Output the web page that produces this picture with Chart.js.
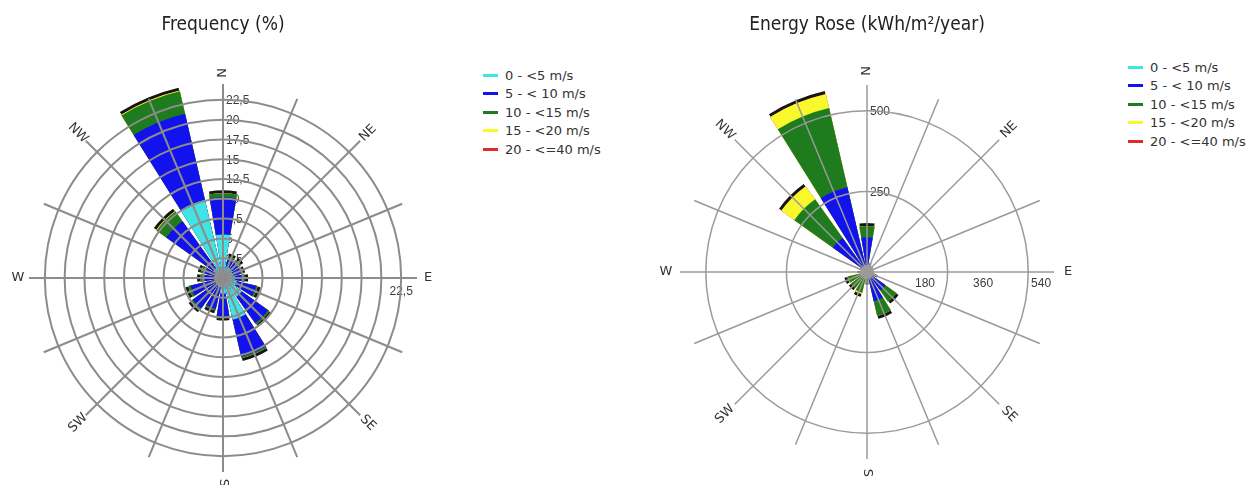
<!DOCTYPE html>
<html>
<head>
<meta charset="utf-8">
<title>Wind roses</title>
<script src="https://cdn.jsdelivr.net/npm/chart.js@4.4.1/dist/chart.umd.min.js"></script>
<style>
body { margin: 0; background: #fff; width: 1257px; height: 485px; position: relative; overflow: hidden; font-family: "DejaVu Sans", sans-serif; }
canvas { position: absolute; top: 0; }
#freq-canvas { left: 0; }
#energy-canvas { left: 644px; }
.legend { position: absolute; margin: 0; padding: 0; list-style: none; font-size: 13px; color: #333; }
.legend li { height: 18.5px; display: flex; align-items: center; white-space: pre; }
.legend .mark { display: inline-block; width: 15px; height: 3px; margin-right: 7px; }
#freq-legend { left: 483px; top: 66px; }
#energy-legend { left: 1128px; top: 58px; }
</style>
</head>
<body>
<canvas id="freq-canvas" width="446" height="485"></canvas>
<canvas id="energy-canvas" width="446" height="485"></canvas>
<ul class="legend" id="freq-legend"></ul>
<ul class="legend" id="energy-legend"></ul>
<script>
// 16 sectors, clockwise from north
var directions = ["N", "NNE", "NE", "ENE", "E", "ESE", "SE", "SSE", "S", "SSW", "SW", "WSW", "W", "WNW", "NW", "NNW"];
var compassLabels = ["N", "NE", "E", "SE", "S", "SW", "W", "NW"];   // written on every 2nd spoke

var binLabels = ["0 - <5 m/s", "5 - < 10 m/s", "10 - <15 m/s", "15 - <20 m/s", "20 - <=40 m/s"];
var binColors = ["#40e4e4", "#1212ee", "#1e7b1e", "#f8f82c", "#e02c2c"];

// Frequency (%) per direction, one array per speed bin
var freq0to5   = [5.5, 1.5, 1.4, 1.3, 1.5, 1.8, 2.9, 5.4, 2.0, 1.2, 1.0, 0.9, 0.8, 0.8, 1.5, 10.1];
var freq5to10  = [4.7, 1.1, 1.2, 1.0, 1.1, 2.5, 4.1, 4.8, 2.8, 2.8, 3.7, 3.3, 1.8, 1.6, 7.3, 11.2];
var freq10to15 = [0.5, 0.2, 0.2, 0.2, 0.2, 0.2, 0.2, 0.2, 0.2, 0.2, 0.3, 0.3, 0.3, 0.5, 1.5, 2.9];
var freq15to20 = [0, 0, 0, 0, 0, 0, 0, 0, 0, 0, 0, 0, 0, 0, 0.1, 0.1];
var freq20to40 = [0, 0, 0, 0, 0, 0, 0, 0, 0, 0, 0, 0, 0, 0, 0, 0];
var freqRings = [2.5, 5, 7.5, 10, 12.5, 15, 17.5, 20, 22.5];
var freqEastTicks = [22.5];
var freqMax = 24.5;

// Energy (kWh/m2/year) per direction, one array per speed bin
var energy0to5   = [3, 1, 1, 1, 1, 1, 2, 3, 1, 1, 1, 1, 1, 1, 3, 5];
var energy5to10  = [105, 8, 6, 5, 5, 10, 68, 90, 15, 20, 20, 20, 8, 6, 127, 265];
var energy10to15 = [35, 11, 8, 6, 6, 14, 42, 47, 14, 45, 40, 40, 11, 8, 147, 252];
var energy15to20 = [0, 0, 0, 0, 0, 0, 0, 0, 0, 4, 0, 2, 0, 0, 50, 45];
var energy20to40 = [0, 0, 0, 0, 0, 0, 0, 0, 0, 0, 0, 0, 0, 0, 0, 0];
var energyRings = [250, 500];
var energyEastTicks = [180, 360, 540];
var energyMax = 580;

var TITLE_FONT = "'DejaVu Sans Condensed', 'DejaVu Sans', sans-serif";
var BAR_DEG = 19;
var GAP_DEG = 22.5 - BAR_DEG;

function cumulate(bins)
{
    // running totals, so each bin is drawn as a ring over the ones outside it
    var out = [];
    var run = directions.map(function(){ return 0; });
    bins.forEach(function(b){
        run = run.map(function(v, i){ return v + b[i]; });
        out.push(run.slice());
    });
    return out;
}

function spread(values)
{
    // one lead slot, then bar / gap pairs so bars sit centred on their spoke
    var d = [0];
    values.forEach(function(v){ d.push(v, 0); });
    return d;
}

function sliceAngle(ctx)
{
    if (ctx.dataIndex === 0) return 360 - BAR_DEG / 2;
    return ctx.dataIndex % 2 ? BAR_DEG : GAP_DEG;
}

function commaFormat(v)
{
    return String(v).replace(".", ",");
}

var roseDecor = {
    id: "roseDecor",
    beforeDatasetsDraw: function(chart, args, opts) {
        var r = chart.scales.r, ctx = chart.ctx;
        ctx.save();
        ctx.font = "12px 'Liberation Sans', Arial, sans-serif";
        ctx.fillStyle = "#3c3c3c";
        ctx.textBaseline = "middle";
        ctx.textAlign = "left";
        opts.rings.forEach(function(v){
            ctx.fillText(commaFormat(v), r.xCenter + 3, r.yCenter - r.getDistanceFromCenterForValue(v) + 1);
        });
        ctx.textAlign = "center";
        opts.eastTicks.forEach(function(v){
            ctx.fillText(commaFormat(v), r.xCenter + r.getDistanceFromCenterForValue(v), r.yCenter + opts.eastDrop);
        });
        ctx.restore();
    },
    afterDatasetsDraw: function(chart, args, opts) {
        var r = chart.scales.r, ctx = chart.ctx;
        ctx.save();
        ctx.fillStyle = "#9b9b9b";
        ctx.beginPath();
        ctx.arc(r.xCenter, r.yCenter, opts.hub, 0, Math.PI * 2);
        ctx.fill();
        ctx.restore();
    },
    afterDraw: function(chart, args, opts) {
        var r = chart.scales.r, ctx = chart.ctx;
        ctx.save();
        ctx.font = "13px 'DejaVu Sans', sans-serif";
        ctx.fillStyle = "#333";
        ctx.textAlign = "center";
        ctx.textBaseline = "middle";
        compassLabels.forEach(function(lbl, k){
            var idx = k * 2;
            var p = r.getPointPosition(idx, opts.labelDist);
            var rot = r.getIndexAngle(idx) - Math.PI / 2;
            while (rot > Math.PI / 2 + 1e-6) rot -= Math.PI;
            while (rot < -Math.PI / 2 - 1e-6) rot += Math.PI;
            ctx.save();
            ctx.translate(p.x, p.y);
            ctx.rotate(rot);
            ctx.fillText(lbl, 0, 0);
            ctx.restore();
        });
        ctx.restore();
    }
};

function buildRose(canvasId, cfg)
{
    var cum = cumulate(cfg.bins);
    var datasets = cum.map(function(vals, b){
        return {
            label: binLabels[b],
            data: spread(vals),
            backgroundColor: binColors[b],
            borderWidth: 0,
            angle: sliceAngle,
            clip: false
        };
    });
    // dark rim: the total again, nudged outwards and drawn underneath
    datasets.push({
        label: "rim",
        data: spread(cum[cum.length - 1]),
        backgroundColor: "#151515",
        borderWidth: 0,
        angle: sliceAngle,
        offset: function(c){ return c.dataIndex % 2 ? cfg.rim : 0; },
        clip: false
    });

    return new Chart(document.getElementById(canvasId), {
        type: "polarArea",
        data: { labels: directions, datasets: datasets },
        options: {
            responsive: false,
            animation: false,
            events: [],
            layout: { padding: cfg.padding },
            plugins: {
                legend: { display: false },
                tooltip: { enabled: false },
                title: {
                    display: true,
                    text: cfg.title,
                    color: "#222",
                    font: { family: TITLE_FONT, size: 19, weight: "normal" },
                    padding: cfg.titlePad
                },
                roseDecor: {
                    rings: cfg.rings,
                    eastTicks: cfg.eastTicks,
                    eastDrop: cfg.eastDrop,
                    hub: cfg.hub,
                    labelDist: cfg.labelDist
                }
            },
            scales: {
                r: {
                    type: "radialLinear",
                    min: 0,
                    max: cfg.max,
                    startAngle: 0,
                    ticks: { display: false, z: 1 },
                    grid: { circular: true, color: cfg.gridColor, lineWidth: cfg.gridWidth, z: 1 },
                    angleLines: { display: true, color: cfg.gridColor, lineWidth: cfg.gridWidth },
                    pointLabels: { display: false },
                    afterBuildTicks: function(scale){
                        scale.ticks = [0].concat(cfg.rings).map(function(v){ return { value: v }; });
                    }
                }
            }
        },
        plugins: [roseDecor]
    });
}

function fillLegend(listId)
{
    var ul = document.getElementById(listId);
    binLabels.forEach(function(lbl, i){
        var li = document.createElement("li");
        var mark = document.createElement("span");
        mark.className = "mark";
        mark.style.background = binColors[i];
        li.appendChild(mark);
        li.appendChild(document.createTextNode(lbl));
        ul.appendChild(li);
    });
}

buildRose("freq-canvas", {
    title: "Frequency (%)",
    bins: [freq0to5, freq5to10, freq10to15, freq15to20, freq20to40],
    rings: freqRings,
    eastTicks: freqEastTicks,
    max: freqMax,
    padding: { left: 29, right: 29, top: 8, bottom: 12 },
    titlePad: { top: 6, bottom: 48 },
    gridColor: "#8c8c8c",
    gridWidth: 2,
    eastDrop: 14,
    hub: 9,
    rim: 6,
    labelDist: 205
});

buildRose("energy-canvas", {
    title: "Energy Rose (kWh/m\u00b2/year)",
    bins: [energy0to5, energy5to10, energy10to15, energy15to20, energy20to40],
    rings: energyRings,
    eastTicks: energyEastTicks,
    max: energyMax,
    padding: { left: 36, right: 36, top: 8, bottom: 25 },
    titlePad: { top: 6, bottom: 49 },
    gridColor: "#9a9a9a",
    gridWidth: 1.5,
    eastDrop: 12,
    hub: 7,
    rim: 6,
    labelDist: 201
});

fillLegend("freq-legend");
fillLegend("energy-legend");
</script>
</body>
</html>
